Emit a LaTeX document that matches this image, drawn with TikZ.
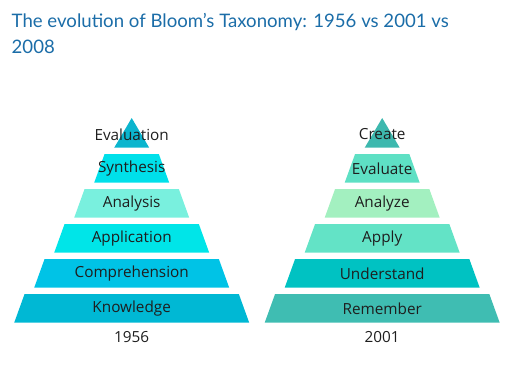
\documentclass[tikz,border=0pt]{standalone}
\usepackage{fontspec}
\setmainfont{Open Sans}
\newfontfamily\titlefont{Lato}
\usepackage{xcolor}
\usetikzlibrary{positioning}

\definecolor{titleblue}{HTML}{1B6DA8}
\definecolor{labelgray}{HTML}{1E1E1E}
% 1956 levels
\definecolor{oldeval}{HTML}{0BB5CE}
\definecolor{oldsyn}{HTML}{00E0EA}
\definecolor{oldana}{HTML}{79F0DE}
\definecolor{oldapp}{HTML}{00E5E8}
\definecolor{oldcom}{HTML}{00C3E6}
\definecolor{oldkno}{HTML}{00B8D4}
% 2001 levels
\definecolor{newcre}{HTML}{3DB8AE}
\definecolor{neweva}{HTML}{5EE0C4}
\definecolor{newana}{HTML}{A3F0C0}
\definecolor{newapp}{HTML}{63E3C6}
\definecolor{newund}{HTML}{00C2C2}
\definecolor{newrem}{HTML}{3FBDB2}

\begin{document}
\begin{tikzpicture}[
    x=1pt, y=-1pt,
    title/.style={font=\titlefont\fontsize{18.6}{22}\selectfont, text=titleblue, anchor=base west, inner sep=0pt},
    lbl/.style={font=\fontsize{15.3}{17}\selectfont, text=labelgray, inner sep=0pt},
]
    \useasboundingbox (0,0) rectangle (523,373);

    \node [title] (title) at (11.5,27.3) {The evolution of Bloom’s Taxonomy: 1956 vs 2001 vs};
    \node [title] (title2) at (11.5,53.3) {2008};

    % left pyramid (1956)
    \def\cx{131.7}
    \fill [oldeval] (\cx,118) -- (\cx+17.5,147.7) -- (\cx-17.5,147.7) -- cycle;
    \node [lbl] (evaluation) at (\cx,134.5) {Evaluation};
    \foreach \i/\name/\txt/\col in {1/synthesis/Synthesis/oldsyn,
            2/analysis/Analysis/oldana, 3/application/Application/oldapp,
            4/comprehension/Comprehension/oldcom, 5/knowledge/Knowledge/oldkno} {
        \pgfmathsetmacro\ybot{147.7+35*\i}
        \pgfmathsetmacro\ytop{\ybot-28.5}
        \pgfmathsetmacro\wbot{17.5+20*\i}
        \pgfmathsetmacro\wtop{\wbot-10.3}
        \fill [\col] (\cx-\wtop,\ytop) -- (\cx+\wtop,\ytop) -- (\cx+\wbot,\ybot) -- (\cx-\wbot,\ybot) -- cycle;
        \node [lbl] (\name) at (\cx,\ybot-14) {\txt};
    }
    \node [lbl] (old year) at (\cx,337) {1956};

    % right pyramid (2001)
    \def\cx{382.2}
    \fill [newcre] (\cx,118) -- (\cx+17.5,147.7) -- (\cx-17.5,147.7) -- cycle;
    \node [lbl] (create) at (\cx,134.5) {Create};
    \foreach \i/\name/\txt/\col in {1/evaluate/Evaluate/neweva,
            2/analyze/Analyze/newana, 3/apply/Apply/newapp,
            4/understand/Understand/newund, 5/remember/Remember/newrem} {
        \pgfmathsetmacro\ybot{147.7+35*\i}
        \pgfmathsetmacro\ytop{\ybot-28.5}
        \pgfmathsetmacro\wbot{17.5+20*\i}
        \pgfmathsetmacro\wtop{\wbot-10.3}
        \fill [\col] (\cx-\wtop,\ytop) -- (\cx+\wtop,\ytop) -- (\cx+\wbot,\ybot) -- (\cx-\wbot,\ybot) -- cycle;
        \node [lbl] (\name) at (\cx,\ybot-14) {\txt};
    }
    \node [lbl] (new year) at (\cx,337) {2001};
\end{tikzpicture}
\end{document}
